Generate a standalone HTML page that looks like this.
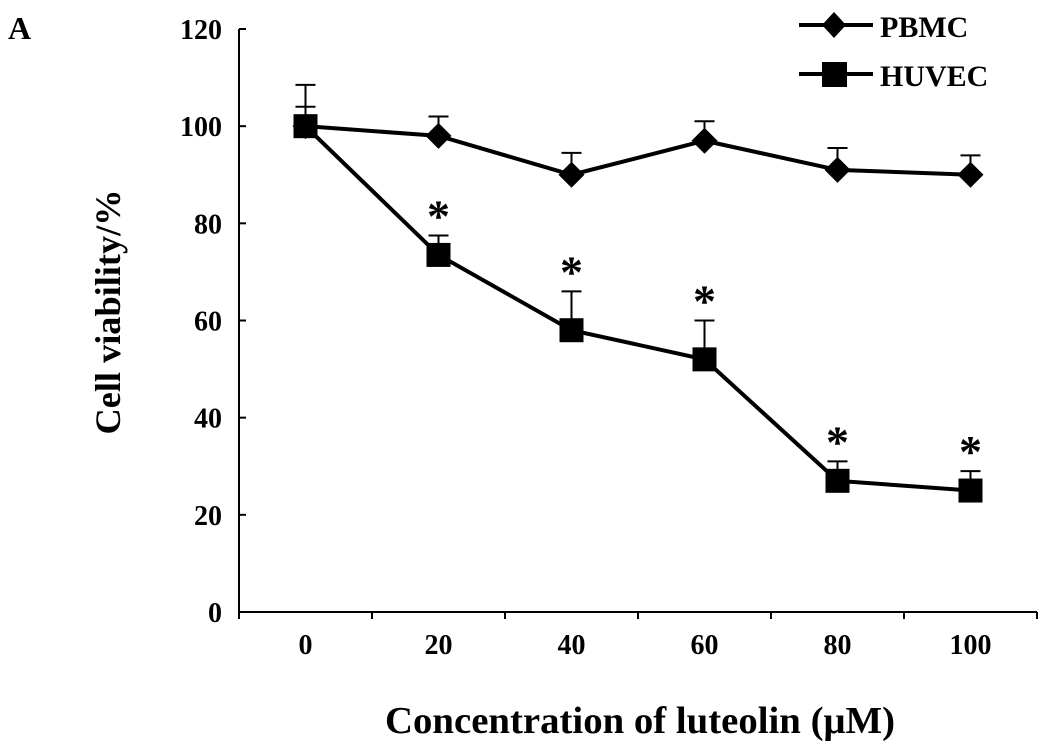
<!DOCTYPE html>
<html><head><meta charset="utf-8"><style>
html,body{margin:0;padding:0;background:#fff;}
svg{display:block;font-family:"Liberation Serif",serif;font-weight:bold;}
</style></head><body>
<svg id="chart" width="1050" height="753" viewBox="0 0 1050 753">
<text x="8" y="39" font-size="32">A</text>
<g id="axes"></g>
<g id="series"></g>
<g>
 <g>
  <line x1="799" y1="25" x2="873" y2="25" stroke="#000" stroke-width="4"/>
  <polygon points="834,12 846,25 834,38 822,25" fill="#000"/>
  <text x="880" y="37" font-size="30">PBMC</text>
 </g>
 <g>
  <line x1="799" y1="74" x2="873" y2="74" stroke="#000" stroke-width="4"/>
  <rect x="822" y="62" width="25" height="25" fill="#000"/>
  <text x="880" y="86" font-size="30">HUVEC</text>
 </g>
</g>
<text x="120" y="312" font-size="36" text-anchor="middle" textLength="245" lengthAdjust="spacingAndGlyphs" transform="rotate(-90 120 312)">Cell viability/%</text>
<text x="640" y="733" font-size="38" text-anchor="middle" textLength="510" lengthAdjust="spacingAndGlyphs">Concentration of luteolin (μM)</text>
</svg>
<script>
const categories = ["0","20","40","60","80","100"];
const yTicks = [0,20,40,60,80,100,120];
const pbmc = [100,98,90,97,91,90];
const pbmcErr = [4,4,4.5,4,4.5,4];
const huvec = [100,73.5,58,52,27,25];
const huvecErr = [8.5,4,8,8,4,4];
const signif = [false,true,true,true,true,true];

const NS="http://www.w3.org/2000/svg";
const x0=239,x1=1037,y0=612,yTop=29;
const step=(x1-x0)/categories.length;
function xs(i){return x0+step*(i+0.5);}
function ys(v){return y0-(v/120)*(y0-yTop);}
function mk(tag,attrs,parent){const e=document.createElementNS(NS,tag);for(const k in attrs)e.setAttribute(k,attrs[k]);parent.appendChild(e);return e;}
const axes=document.getElementById('axes');
const ser=document.getElementById('series');
let e=mk('line',{x1:x0,y1:ys(120),x2:x0,y2:y0,stroke:'#000','stroke-width':2},axes);


e=mk('line',{x1:x0,y1:y0,x2:x1,y2:y0,stroke:'#000','stroke-width':2},axes);


yTicks.forEach(v=>{
 mk('line',{x1:x0,y1:ys(v),x2:x0+7,y2:ys(v),stroke:'#000','stroke-width':2},axes);
 const t=mk('text',{x:x0-17,y:ys(v)+10,'font-size':28,'text-anchor':'end'},axes);
 t.textContent=v;
 
 
});
for(let i=0;i<=categories.length;i++){
 mk('line',{x1:x0+step*i,y1:y0,x2:x0+step*i,y2:y0+7,stroke:'#000','stroke-width':2},axes);
}
categories.forEach((c,i)=>{
 const t=mk('text',{x:xs(i),y:y0+42,'font-size':28,'text-anchor':'middle'},axes);
 t.textContent=c;
 
 
});
function drawSeries(vals,errs,shape,name){
 const g=mk('g',{},ser);
 
 
 vals.forEach((v,i)=>{
  const top=ys(v+errs[i]);
  mk('line',{x1:xs(i),y1:ys(v),x2:xs(i),y2:top,stroke:'#000','stroke-width':2},g);
  mk('line',{x1:xs(i)-10,y1:top,x2:xs(i)+10,y2:top,stroke:'#000','stroke-width':2},g);
 });
 const p=mk('polyline',{points:vals.map((v,i)=>xs(i)+','+ys(v)).join(' '),fill:'none',stroke:'#000','stroke-width':4},g);
 
 
 vals.forEach((v,i)=>{
  const cx=xs(i),cy=ys(v);
  let m;
  if(shape==='d') m=mk('polygon',{points:`${cx},${cy-13} ${cx+13},${cy} ${cx},${cy+13} ${cx-13},${cy}`,fill:'#000'},g);
  else m=mk('rect',{x:cx-12,y:cy-12,width:24,height:24,fill:'#000'},g);
  
  
 });
}
drawSeries(pbmc,pbmcErr,'d','pbmc');
drawSeries(huvec,huvecErr,'s','huvec');
huvec.forEach((v,i)=>{
 if(!signif[i])return;
 const t=mk('text',{x:xs(i),y:ys(v+huvecErr[i])-4,'font-size':46,'text-anchor':'middle'},ser);
 t.textContent='*';
 
 
});
</script>
</body></html>
